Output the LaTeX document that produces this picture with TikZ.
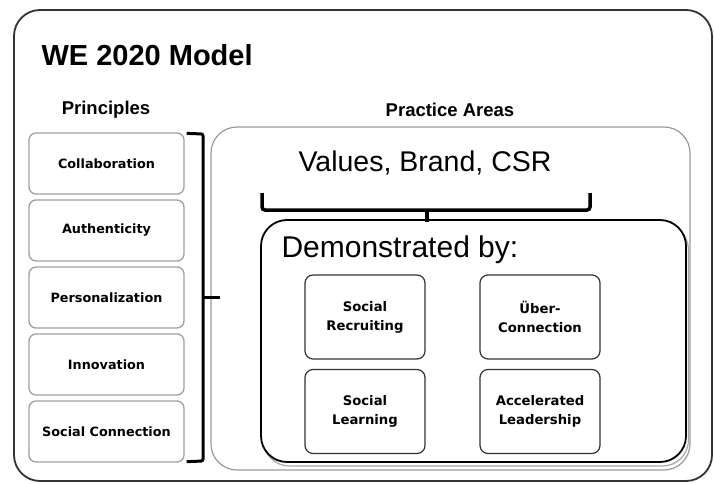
\documentclass[tikz,border=0pt]{standalone}
\usepackage{fontspec}
\setmainfont{Liberation Sans}
\newfontfamily\boxfont{DejaVu Sans}
\begin{document}
\begin{tikzpicture}[
			x=1pt, y=-1pt,
			principle/.style={draw=gray!75, line width=1.3pt, rounded corners=7pt,
				minimum width=155pt, minimum height=61pt, align=center,
				font=\boxfont\fontsize{12.8}{14}\selectfont\bfseries},
			practice/.style={draw=black!80, line width=1.2pt, rounded corners=8pt,
				minimum width=120pt, minimum height=84pt, align=center,
				font=\boxfont\fontsize{13.2}{19}\selectfont\bfseries},
			heading/.style={font=\fontsize{18.5}{20}\selectfont\bfseries},
			bracket/.style={line width=3pt, rounded corners=2pt}
		]
		\useasboundingbox (0,0) rectangle (714,484);
		\draw[black!80, line width=1.8pt, rounded corners=26pt] (14,10) rectangle (712,481);
		\node[anchor=west, font=\fontsize{29}{32}\selectfont\bfseries] (title) at (38,55) {WE 2020 Model};
		\node[heading] (principles) at (106,110) {Principles};
		\node[heading] (areas) at (450,110) {Practice Areas};

		\foreach \name/\txt [count=\i] in {p1/Collaboration, p2/Authenticity, p3/Personalization, p4/Innovation, p5/Social Connection}
			\node[principle] (\name) at (106.5,{163.5+67*(\i-1)}) {\txt};

		\node[draw=gray!80, line width=1.2pt, rounded corners=26pt,
			minimum width=479pt, minimum height=343pt] (area) at (450.5,298.5) {};
		\node[font=\fontsize{28.5}{32}\selectfont] (values) at (425,163) {Values, Brand, CSR};

		\node[draw=gray!70, line width=1.2pt, rounded corners=26pt,
			minimum width=425pt, minimum height=242pt] at (476,345) {};
		\node[draw=black, line width=1.8pt, rounded corners=26pt, fill=white,
			minimum width=425pt, minimum height=242pt] (demo) at (473.5,341) {};
		\node[anchor=west, font=\fontsize{30}{32}\selectfont] (demoby) at (278,250) {Demonstrated by:};

		\node[practice] (recruit) at (365,317) {Social\\Recruiting};
		\node[practice] (learn) at (365,411.5) {Social\\Learning};
		\node[practice] (uber) at (540,317) {Über-\\Connection};
		\node[practice] (lead) at (540,411.5) {Accelerated\\Leadership};

		\coordinate (b1) at (203,134);
		\coordinate (b2) at (203,461);
		\coordinate (bt) at (220,297);
		\draw[bracket] (p1.north east) ++(2,1) -- (b1) -- (b2) -- ([xshift=2pt,yshift=1pt]p5.south east);
		\draw[line width=3pt] (b1 |- bt) -- (bt);

		\coordinate (c1) at (262,193);
		\coordinate (c2) at (590,193);
		\coordinate (ct) at (427,222);
		\draw[line width=3.5pt, rounded corners=3pt] (c1) -- (262,210) -- (590,210) -- (c2);
		\draw[line width=3.5pt] (ct |- 0,210) -- (ct);
	\end{tikzpicture}
\end{document}
